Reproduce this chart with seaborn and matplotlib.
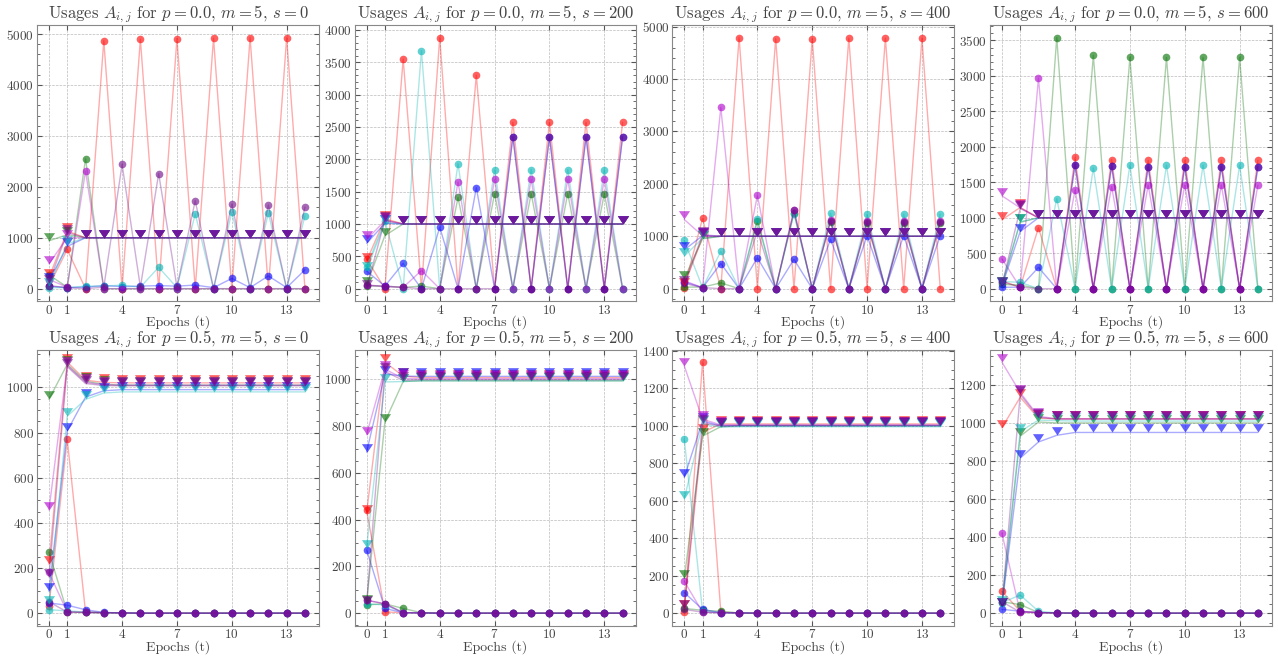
import numpy as np
import pandas as pd
import matplotlib
matplotlib.use('Agg')
import matplotlib.pyplot as plt
from matplotlib.path import Path
from matplotlib.colors import to_rgba
from matplotlib.ticker import AutoMinorLocator
import seaborn as sns

sns.set_style('ticks')
plt.rcParams['font.family'] = 'serif'
plt.rcParams['font.serif'] = ['cmr10', 'DejaVu Serif']
plt.rcParams['mathtext.fontset'] = 'cm'
plt.rcParams['axes.formatter.use_mathtext'] = True

epochs = list(range(15))
xticks = [0, 1, 4, 7, 10, 13]
p_values = ['0.0', '0.5']
s_values = [0, 200, 400, 600]

COLORS = {'red': '#ff0000', 'green': '#007000', 'blue': '#0000ff',
          'cyan': '#00b4b4', 'magenta': '#b000cc', 'purple': '#700a88'}

# --- circles: off-diagonal usages ---
off_p0_s0 = {
    'red':     [50, 770, 0, 4870, 0, 4900, 0, 4910, 0, 4920, 0, 4930, 0, 4930, 0],
    'green':   [270, 30, 2550, 0, 0, 0, 0, 0, 0, 0, 0, 0, 0, 0, 0],
    'blue':    [50, 20, 30, 60, 40, 50, 60, 50, 70, 20, 200, 20, 250, 20, 370],
    'cyan':    [20, 20, 50, 50, 70, 30, 420, 20, 1470, 0, 1500, 0, 1480, 0, 1430],
    'magenta': [180, 30, 2310, 0, 0, 0, 0, 0, 0, 0, 0, 0, 0, 0, 0],
    'purple':  [60, 20, 0, 30, 2440, 30, 2260, 30, 1730, 0, 1660, 0, 1640, 0, 1600],
}
off_p0_s200 = {
    'red':     [460, 0, 3550, 0, 3880, 0, 3300, 0, 2570, 0, 2570, 0, 2570, 0, 2570],
    'green':   [40, 40, 20, 40, 0, 1410, 0, 1470, 0, 1470, 0, 1470, 0, 1470, 0],
    'blue':    [270, 40, 390, 0, 950, 0, 1560, 0, 2350, 0, 2350, 0, 2350, 0, 2350],
    'cyan':    [340, 1050, 0, 3680, 0, 1930, 0, 1840, 0, 1840, 0, 1840, 0, 1840, 0],
    'magenta': [50, 40, 20, 280, 0, 1650, 0, 1690, 0, 1690, 0, 1690, 0, 1690, 0],
    'purple':  [60, 30, 20, 0, 0, 0, 0, 0, 2350, 0, 2350, 0, 2350, 0, 2350],
}
off_p0_s400 = {
    'red':     [20, 1340, 0, 4790, 0, 4770, 0, 4770, 0, 4780, 0, 4780, 0, 4780, 0],
    'green':   [30, 30, 110, 0, 1290, 0, 1450, 0, 1280, 0, 1250, 0, 1250, 0, 1260],
    'blue':    [130, 20, 480, 0, 590, 0, 560, 0, 940, 0, 1010, 0, 1010, 0, 1010],
    'cyan':    [920, 20, 710, 0, 1330, 0, 1430, 0, 1440, 0, 1420, 0, 1420, 0, 1420],
    'magenta': [150, 20, 3460, 0, 1780, 0, 1500, 0, 1310, 0, 1300, 0, 1300, 0, 1300],
    'purple':  [100, 20, 0, 0, 1100, 0, 1500, 0, 1300, 0, 1280, 0, 1280, 0, 1280],
}
off_p0_s600 = {
    'red':     [110, 20, 860, 0, 1850, 0, 1820, 0, 1810, 0, 1810, 0, 1810, 0, 1810],
    'green':   [60, 50, 0, 3540, 0, 3290, 0, 3260, 0, 3260, 0, 3260, 0, 3260, 0],
    'blue':    [20, 20, 300, 0, 1750, 0, 1730, 0, 1720, 0, 1720, 0, 1720, 0, 1720],
    'cyan':    [100, 90, 0, 1270, 0, 1700, 0, 1740, 0, 1740, 0, 1740, 0, 1740, 0],
    'magenta': [420, 20, 2970, 0, 1390, 0, 1440, 0, 1460, 0, 1460, 0, 1460, 0, 1460],
    'purple':  [100, 20, 0, 0, 1750, 0, 1730, 0, 1720, 0, 1720, 0, 1720, 0, 1720],
}
off_p5_s0 = {
    'red':     [30, 770, 5, 2, 1, 0, 0, 0, 0, 0, 0, 0, 0, 0, 0],
    'green':   [270, 5, 3, 2, 1, 0, 0, 0, 0, 0, 0, 0, 0, 0, 0],
    'blue':    [45, 35, 15, 3, 1, 0, 0, 0, 0, 0, 0, 0, 0, 0, 0],
    'cyan':    [15, 10, 5, 2, 1, 0, 0, 0, 0, 0, 0, 0, 0, 0, 0],
    'magenta': [180, 5, 3, 2, 1, 0, 0, 0, 0, 0, 0, 0, 0, 0, 0],
    'purple':  [50, 5, 3, 2, 1, 0, 0, 0, 0, 0, 0, 0, 0, 0, 0],
}
off_p5_s200 = {
    'red':     [440, 5, 2, 1, 0, 0, 0, 0, 0, 0, 0, 0, 0, 0, 0],
    'green':   [35, 40, 20, 2, 0, 0, 0, 0, 0, 0, 0, 0, 0, 0, 0],
    'blue':    [270, 20, 2, 1, 0, 0, 0, 0, 0, 0, 0, 0, 0, 0, 0],
    'cyan':    [40, 35, 2, 1, 0, 0, 0, 0, 0, 0, 0, 0, 0, 0, 0],
    'magenta': [55, 40, 2, 1, 0, 0, 0, 0, 0, 0, 0, 0, 0, 0, 0],
    'purple':  [55, 40, 2, 1, 0, 0, 0, 0, 0, 0, 0, 0, 0, 0, 0],
}
off_p5_s400 = {
    'red':     [5, 1340, 5, 1, 0, 0, 0, 0, 0, 0, 0, 0, 0, 0, 0],
    'green':   [25, 15, 10, 1, 0, 0, 0, 0, 0, 0, 0, 0, 0, 0, 0],
    'blue':    [110, 20, 2, 1, 0, 0, 0, 0, 0, 0, 0, 0, 0, 0, 0],
    'cyan':    [930, 10, 2, 1, 0, 0, 0, 0, 0, 0, 0, 0, 0, 0, 0],
    'magenta': [170, 5, 2, 1, 0, 0, 0, 0, 0, 0, 0, 0, 0, 0, 0],
    'purple':  [20, 5, 2, 1, 0, 0, 0, 0, 0, 0, 0, 0, 0, 0, 0],
}
off_p5_s600 = {
    'red':     [115, 10, 3, 1, 0, 0, 0, 0, 0, 0, 0, 0, 0, 0, 0],
    'green':   [60, 45, 3, 1, 0, 0, 0, 0, 0, 0, 0, 0, 0, 0, 0],
    'blue':    [20, 10, 3, 1, 0, 0, 0, 0, 0, 0, 0, 0, 0, 0, 0],
    'cyan':    [55, 95, 10, 1, 0, 0, 0, 0, 0, 0, 0, 0, 0, 0, 0],
    'magenta': [420, 5, 3, 1, 0, 0, 0, 0, 0, 0, 0, 0, 0, 0, 0],
    'purple':  [60, 5, 3, 1, 0, 0, 0, 0, 0, 0, 0, 0, 0, 0, 0],
}

# --- triangles: diagonal usages ---
diag_p0_s0 = {
    'red':     [220, 1130, 1000, 1000, 1000, 1000, 1000, 1000, 1000, 1000, 1000, 1000, 1000, 1000, 1000],
    'green':   [940, 1060, 1000, 1000, 1000, 1000, 1000, 1000, 1000, 1000, 1000, 1000, 1000, 1000, 1000],
    'blue':    [150, 830, 1000, 1000, 1000, 1000, 1000, 1000, 1000, 1000, 1000, 1000, 1000, 1000, 1000],
    'cyan':    [60, 880, 1000, 1000, 1000, 1000, 1000, 1000, 1000, 1000, 1000, 1000, 1000, 1000, 1000],
    'magenta': [490, 1000, 1000, 1000, 1000, 1000, 1000, 1000, 1000, 1000, 1000, 1000, 1000, 1000, 1000],
    'purple':  [120, 1100, 1000, 1000, 1000, 1000, 1000, 1000, 1000, 1000, 1000, 1000, 1000, 1000, 1000],
}
diag_p0_s200 = {
    'red':     [430, 1080, 1000, 1000, 1000, 1000, 1000, 1000, 1000, 1000, 1000, 1000, 1000, 1000, 1000],
    'green':   [60, 820, 1000, 1000, 1000, 1000, 1000, 1000, 1000, 1000, 1000, 1000, 1000, 1000, 1000],
    'blue':    [700, 1010, 1000, 1000, 1000, 1000, 1000, 1000, 1000, 1000, 1000, 1000, 1000, 1000, 1000],
    'cyan':    [290, 1020, 1000, 1000, 1000, 1000, 1000, 1000, 1000, 1000, 1000, 1000, 1000, 1000, 1000],
    'magenta': [760, 1050, 1000, 1000, 1000, 1000, 1000, 1000, 1000, 1000, 1000, 1000, 1000, 1000, 1000],
    'purple':  [10, 1060, 1000, 1000, 1000, 1000, 1000, 1000, 1000, 1000, 1000, 1000, 1000, 1000, 1000],
}
diag_p0_s400 = {
    'red':     [60, 980, 1000, 1000, 1000, 1000, 1000, 1000, 1000, 1000, 1000, 1000, 1000, 1000, 1000],
    'green':   [190, 950, 1000, 1000, 1000, 1000, 1000, 1000, 1000, 1000, 1000, 1000, 1000, 1000, 1000],
    'blue':    [740, 1010, 1000, 1000, 1000, 1000, 1000, 1000, 1000, 1000, 1000, 1000, 1000, 1000, 1000],
    'cyan':    [620, 960, 1000, 1000, 1000, 1000, 1000, 1000, 1000, 1000, 1000, 1000, 1000, 1000, 1000],
    'magenta': [1320, 1010, 1000, 1000, 1000, 1000, 1000, 1000, 1000, 1000, 1000, 1000, 1000, 1000, 1000],
    'purple':  [80, 1030, 1000, 1000, 1000, 1000, 1000, 1000, 1000, 1000, 1000, 1000, 1000, 1000, 1000],
}
diag_p0_s600 = {
    'red':     [970, 1145, 1000, 1000, 1000, 1000, 1000, 1000, 1000, 1000, 1000, 1000, 1000, 1000, 1000],
    'green':   [45, 935, 1000, 1000, 1000, 1000, 1000, 1000, 1000, 1000, 1000, 1000, 1000, 1000, 1000],
    'blue':    [35, 805, 1000, 1000, 1000, 1000, 1000, 1000, 1000, 1000, 1000, 1000, 1000, 1000, 1000],
    'cyan':    [55, 945, 1000, 1000, 1000, 1000, 1000, 1000, 1000, 1000, 1000, 1000, 1000, 1000, 1000],
    'magenta': [1310, 1140, 1000, 1000, 1000, 1000, 1000, 1000, 1000, 1000, 1000, 1000, 1000, 1000, 1000],
    'purple':  [45, 1130, 1000, 1000, 1000, 1000, 1000, 1000, 1000, 1000, 1000, 1000, 1000, 1000, 1000],
}
diag_p5_s0 = {
    'red':     [217, 1112, 1032, 1022, 1020, 1020, 1020, 1020, 1020, 1020, 1020, 1020, 1020, 1020, 1020],
    'green':   [947, 1102, 1027, 1014, 1010, 1010, 1010, 1010, 1010, 1010, 1010, 1010, 1010, 1010, 1010],
    'blue':    [97, 807, 957, 985, 990, 990, 990, 990, 990, 990, 990, 990, 990, 990, 990],
    'cyan':    [42, 872, 947, 975, 980, 980, 980, 980, 980, 980, 980, 980, 980, 980, 980],
    'magenta': [457, 1097, 1022, 1012, 1010, 1010, 1010, 1010, 1010, 1010, 1010, 1010, 1010, 1010, 1010],
    'purple':  [160, 1092, 1017, 1008, 1007, 1007, 1007, 1007, 1007, 1007, 1007, 1007, 1007, 1007, 1007],
}
diag_p5_s200 = {
    'red':     [428, 1073, 1013, 1007, 1007, 1007, 1007, 1007, 1007, 1007, 1007, 1007, 1007, 1007, 1007],
    'green':   [43, 818, 990, 993, 993, 993, 993, 993, 993, 993, 993, 993, 993, 993, 993],
    'blue':    [688, 1023, 1013, 1012, 1012, 1012, 1012, 1012, 1012, 1012, 1012, 1012, 1012, 1012, 1012],
    'cyan':    [278, 988, 990, 993, 993, 993, 993, 993, 993, 993, 993, 993, 993, 993, 993],
    'magenta': [763, 1043, 1003, 1002, 1002, 1002, 1002, 1002, 1002, 1002, 1002, 1002, 1002, 1002, 1002],
    'purple':  [38, 1033, 995, 998, 998, 998, 998, 998, 998, 998, 998, 998, 998, 998, 998],
}
diag_p5_s400 = {
    'red':     [25, 965, 1010, 1010, 1010, 1010, 1010, 1010, 1010, 1010, 1010, 1010, 1010, 1010, 1010],
    'green':   [185, 945, 995, 1000, 1000, 1000, 1000, 1000, 1000, 1000, 1000, 1000, 1000, 1000, 1000],
    'blue':    [725, 1025, 1000, 1000, 1000, 1000, 1000, 1000, 1000, 1000, 1000, 1000, 1000, 1000, 1000],
    'cyan':    [610, 1010, 993, 995, 995, 995, 995, 995, 995, 995, 995, 995, 995, 995, 995],
    'magenta': [1320, 1035, 1005, 1005, 1005, 1005, 1005, 1005, 1005, 1005, 1005, 1005, 1005, 1005, 1005],
    'purple':  [30, 1015, 1000, 1002, 1002, 1002, 1002, 1002, 1002, 1002, 1002, 1002, 1002, 1002, 1002],
}
diag_p5_s600 = {
    'red':     [975, 1135, 1025, 1022, 1022, 1022, 1022, 1022, 1022, 1022, 1022, 1022, 1022, 1022, 1022],
    'green':   [40, 930, 1005, 1000, 1000, 1000, 1000, 1000, 1000, 1000, 1000, 1000, 1000, 1000, 1000],
    'blue':    [35, 815, 900, 935, 950, 950, 950, 950, 950, 950, 950, 950, 950, 950, 950],
    'cyan':    [50, 955, 1015, 1012, 1010, 1010, 1010, 1010, 1010, 1010, 1010, 1010, 1010, 1010, 1010],
    'magenta': [1320, 1160, 1035, 1022, 1022, 1022, 1022, 1022, 1022, 1022, 1022, 1022, 1022, 1022, 1022],
    'purple':  [40, 1150, 1030, 1020, 1020, 1020, 1020, 1020, 1020, 1020, 1020, 1020, 1020, 1020, 1020],
}

panels = [
    ('0.0', 0, off_p0_s0, diag_p0_s0), ('0.0', 200, off_p0_s200, diag_p0_s200),
    ('0.0', 400, off_p0_s400, diag_p0_s400), ('0.0', 600, off_p0_s600, diag_p0_s600),
    ('0.5', 0, off_p5_s0, diag_p5_s0), ('0.5', 200, off_p5_s200, diag_p5_s200),
    ('0.5', 400, off_p5_s400, diag_p5_s400), ('0.5', 600, off_p5_s600, diag_p5_s600),
]

# triangle pointing down, anchored at its tip
tri_marker = Path([(-1.0, 1.5), (1.0, 1.5), (0.0, 0.0), (-1.0, 1.5)],
                  [Path.MOVETO, Path.LINETO, Path.LINETO, Path.CLOSEPOLY])

fig, axes = plt.subplots(2, 4, figsize=(12.78, 6.6), dpi=100)
fig.subplots_adjust(left=0.029, right=0.995, top=0.962, bottom=0.052,
                    wspace=0.128, hspace=0.175)


def draw_series(ax, values, color, marker, ms):
    sns.lineplot(x=epochs, y=values, ax=ax, sort=False, errorbar=None,
                 color=to_rgba(color, 0.33), linewidth=1.0,
                 marker=marker, markersize=ms,
                 markerfacecolor=to_rgba(color, 0.62),
                 markeredgecolor='none', markeredgewidth=0)


for ax, (p, s, off, diag) in zip(axes.flat, panels):
    for name in COLORS:
        draw_series(ax, off[name], COLORS[name], 'o', 5.5)
    for name in COLORS:
        draw_series(ax, diag[name], COLORS[name], tri_marker, 12)

    ax.set_title(r'Usages $A_{i,j}$ for $p = %s$, $m = 5$, $s = %d$' % (p, s),
                 fontsize=12, color='#444444', pad=1)
    ax.set_xlabel('Epochs (t)', fontsize=10, color='#444444', labelpad=-1)
    ax.set_ylabel('')
    ax.set_xticks(xticks)
    ax.set_xlim(-0.65, 14.75)
    ax.yaxis.set_minor_locator(AutoMinorLocator())
    ax.tick_params(which='both', direction='in', top=True, right=True,
                   labelsize=9.5, colors='#555555', labelcolor='#444444', pad=2)
    ax.tick_params(which='major', length=3.5)
    ax.tick_params(which='minor', length=2)
    ax.grid(True, which='major', linestyle='--', linewidth=0.5, color='#bbbbbb')
    for sp in ax.spines.values():
        sp.set_color('#888888')
        sp.set_linewidth(0.8)

fig.savefig('out.png', dpi=100)
